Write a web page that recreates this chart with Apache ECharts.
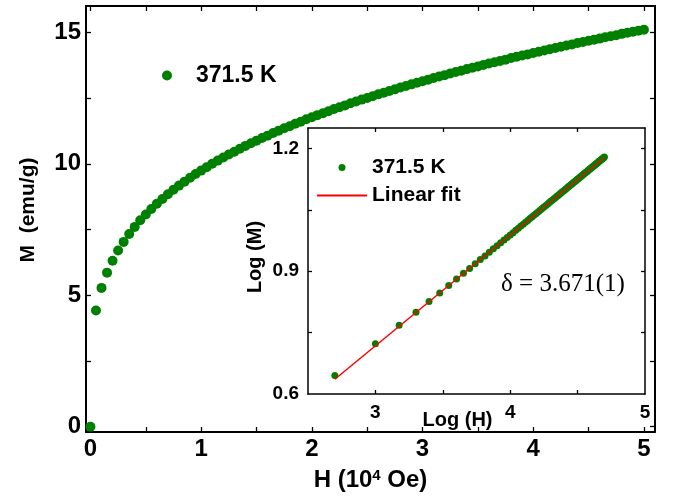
<!DOCTYPE html>
<html>
<head>
<meta charset="utf-8">
<script src="https://cdn.jsdelivr.net/npm/echarts@6/dist/echarts.min.js"></script>
<style>
html,body{margin:0;padding:0;background:#fff;}
#box{width:674px;height:500px;}
</style>
</head>
<body>
<div id="box"></div>
<script>
// H in 10^4 Oe, M in emu/g (371.5 K isotherm)
var fieldH = [
	0, 0.05, 0.1, 0.15, 0.2, 0.25, 0.3, 0.35, 0.4, 0.45,
	0.5, 0.55, 0.6, 0.65, 0.7, 0.75, 0.8, 0.85, 0.9, 0.95,
	1, 1.05, 1.1, 1.15, 1.2, 1.25, 1.3, 1.35, 1.4, 1.45,
	1.5, 1.55, 1.6, 1.65, 1.7, 1.75, 1.8, 1.85, 1.9, 1.95,
	2, 2.05, 2.1, 2.15, 2.2, 2.25, 2.3, 2.35, 2.4, 2.45,
	2.5, 2.55, 2.6, 2.65, 2.7, 2.75, 2.8, 2.85, 2.9, 2.95,
	3, 3.05, 3.1, 3.15, 3.2, 3.25, 3.3, 3.35, 3.4, 3.45,
	3.5, 3.55, 3.6, 3.65, 3.7, 3.75, 3.8, 3.85, 3.9, 3.95,
	4, 4.05, 4.1, 4.15, 4.2, 4.25, 4.3, 4.35, 4.4, 4.45,
	4.5, 4.55, 4.6, 4.65, 4.7, 4.75, 4.8, 4.85, 4.9, 4.95,
	5
];
var magM = [
	0, 4.42, 5.28, 5.86, 6.31, 6.70, 7.03, 7.33, 7.60, 7.85,
	8.07, 8.28, 8.48, 8.66, 8.84, 9.01, 9.17, 9.32, 9.47, 9.61,
	9.74, 9.87, 10.00, 10.12, 10.24, 10.35, 10.46, 10.57, 10.68, 10.78,
	10.88, 10.98, 11.07, 11.17, 11.26, 11.35, 11.43, 11.52, 11.60, 11.69,
	11.77, 11.85, 11.92, 12.00, 12.08, 12.15, 12.22, 12.30, 12.37, 12.44,
	12.50, 12.57, 12.64, 12.70, 12.77, 12.83, 12.90, 12.96, 13.02, 13.08,
	13.14, 13.20, 13.26, 13.32, 13.37, 13.43, 13.49, 13.54, 13.60, 13.65,
	13.70, 13.76, 13.81, 13.86, 13.91, 13.96, 14.02, 14.07, 14.12, 14.16,
	14.21, 14.26, 14.31, 14.36, 14.40, 14.45, 14.50, 14.54, 14.59, 14.63,
	14.68, 14.72, 14.76, 14.81, 14.85, 14.89, 14.94, 14.98, 15.02, 15.06,
	15.10
];
// linear fit of Log(M) vs Log(H)
var fitLogH = [2.699, 4.699];
var fitLogM = [0.636, 1.178];

var mainXLabels = [0, 1, 2, 3, 4, 5];
var mainXTicks = [0, 0.5, 1, 1.5, 2, 2.5, 3, 3.5, 4, 4.5, 5];
var mainYLabels = [0, 5, 10, 15];
var mainYTicks = [0, 2.5, 5, 7.5, 10, 12.5, 15];
var insetXLabels = [3, 4, 5];
var insetXTicks = [3, 3.5, 4, 4.5];
var insetYLabels = [0.6, 0.9, 1.2];
var insetYTicks = [0.75, 0.9, 1.05, 1.2];

var FONT = '"Liberation Sans", Arial, sans-serif';

var mainPts = [];
for (var i = 0; i < fieldH.length; i++) {
	mainPts.push([fieldH[i], magM[i]]);
}
// log-log points (H in Oe), zero field point left out
var logPts = [];
for (var i = 1; i < fieldH.length; i++) {
	logPts.push([Math.log10(fieldH[i] * 1e4), Math.log10(magM[i])]);
}
var fitPts = [];
for (var i = 0; i < fitLogH.length; i++) {
	fitPts.push([fitLogH[i], fitLogM[i]]);
}

function axisX(grid, pos, min, max, ticks, labels, size, extra) {
	var a = {
		type: 'value', gridIndex: grid, position: pos, min: min, max: max,
		nameMoveOverlap: false,
		axisLine: { onZero: false, lineStyle: { color: '#000', width: grid == 0 ? 2 : 1.5 } },
		axisTick: { inside: true, length: grid == 0 ? 5 : 4, customValues: ticks, lineStyle: { color: '#000', width: 1.3 } },
		axisLabel: labels ? { customValues: labels, fontSize: size, fontWeight: 'bold', color: '#000', fontFamily: FONT, margin: grid == 0 ? 5 : 9 } : { show: false },
		splitLine: { show: false }
	};
	for (var k in extra) a[k] = extra[k];
	return a;
}

var mychar = echarts.init(document.getElementById('box'));
var option = {
	animation: false,
	backgroundColor: '#fff',
	grid: [
		{ left: 86, top: 6, width: 569, height: 426 },
		{ left: 308, top: 128, width: 337, height: 266 }
	],
	xAxis: [
		axisX(0, 'bottom', -0.04, 5.1, mainXTicks, mainXLabels, 24, {
			name: 'H (10{sup|4} Oe)', nameLocation: 'middle', nameGap: 36,
			nameTextStyle: { fontSize: 24, fontWeight: 'bold', color: '#000', fontFamily: FONT,
				rich: { sup: { fontSize: 15, fontWeight: 'bold', fontFamily: FONT, padding: [0, 0, 10, 0] } } }
		}),
		axisX(0, 'top', -0.04, 5.1, mainXTicks, null),
		axisX(1, 'bottom', 2.5, 5, insetXTicks, insetXLabels, 19, {
			name: 'Log (H)', nameLocation: 'middle', nameGap: 16,
			nameTextStyle: { fontSize: 20, fontWeight: 'bold', color: '#000', fontFamily: FONT, padding: [0, 38, 0, 0] }
		}),
		axisX(1, 'top', 2.5, 5, insetXTicks, null)
	],
	yAxis: [
		axisX(0, 'left', -0.2, 16, mainYTicks, mainYLabels, 24, {
			name: 'M  (emu/g)', nameLocation: 'middle', nameGap: 47,
			nameTextStyle: { fontSize: 21, fontWeight: 'bold', color: '#000', fontFamily: FONT, padding: [0, 0, 0, 18] }
		}),
		axisX(0, 'right', -0.2, 16, mainYTicks, null),
		axisX(1, 'left', 0.6, 1.25, insetYTicks, insetYLabels, 19, {
			name: 'Log (M)', nameLocation: 'middle', nameGap: 43,
			nameTextStyle: { fontSize: 20, fontWeight: 'bold', color: '#000', fontFamily: FONT, padding: [0, 0, 0, 8] }
		}),
		axisX(1, 'right', 0.6, 1.25, insetYTicks, null)
	],
	legend: [
		{
			left: 162, top: 64, padding: 0, itemWidth: 48, itemHeight: 10, selectedMode: false,
			data: [{ name: '371.5 K', icon: 'circle' }],
			textStyle: { fontSize: 23, fontWeight: 'bold', color: '#000', fontFamily: FONT }
		},
		{
			left: 316, top: 157, padding: 0, orient: 'vertical', itemWidth: 50, itemHeight: 7, itemGap: 7, selectedMode: false,
			data: [{ name: '371.5 K', icon: 'circle' }, { name: 'Linear fit', itemStyle: { opacity: 0 } }],
			textStyle: { fontSize: 21, lineHeight: 21, fontWeight: 'bold', color: '#000', fontFamily: FONT }
		}
	],
	graphic: [{
		type: 'text', left: 501, top: 272,
		style: { text: 'δ = 3.671(1)', font: '25px "Liberation Serif", "Times New Roman", serif', fill: '#000' }
	}],
	series: [
		{
			name: '371.5 K', type: 'scatter', xAxisIndex: 0, yAxisIndex: 0,
			symbolSize: 10, itemStyle: { color: '#008000', opacity: 1 }, data: mainPts
		},
		{
			name: '371.5 K', type: 'scatter', xAxisIndex: 2, yAxisIndex: 2,
			symbolSize: 7, itemStyle: { color: '#008000', opacity: 1 }, data: logPts
		},
		{
			name: 'Linear fit', type: 'line', xAxisIndex: 2, yAxisIndex: 2, symbol: 'none',
			lineStyle: { color: '#ff0000', width: 1.5 }, itemStyle: { color: '#ff0000' }, data: fitPts
		}
	]
};
mychar.setOption(option);
</script>
</body>
</html>
